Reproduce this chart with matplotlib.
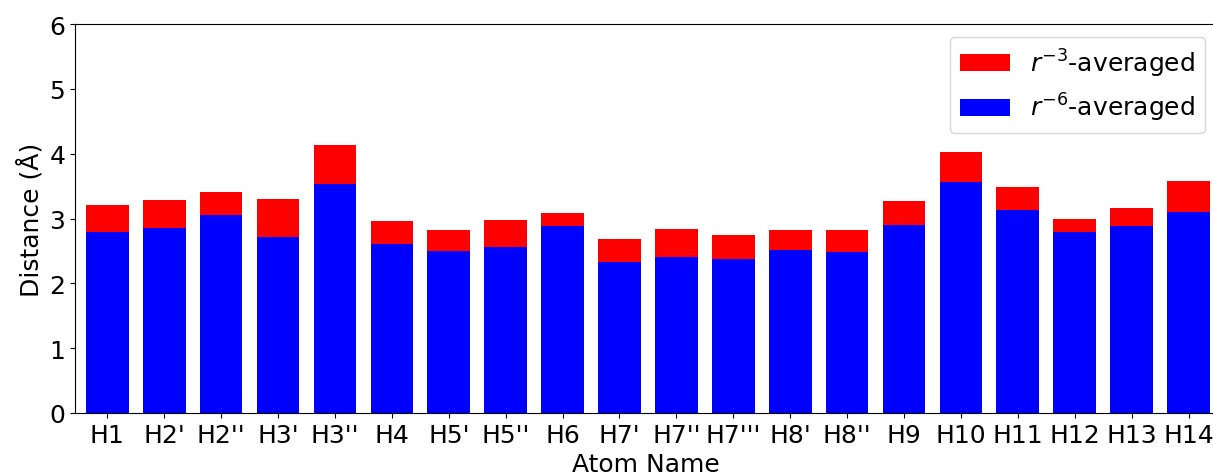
import numpy as np
from matplotlib import pyplot as plt

# Nombres de los átomos y distancias promediadas (Å)
atomos = ["H1", "H2'", "H2''", "H3'", "H3''", "H4", "H5'", "H5''", "H6", "H7'",
          "H7''", "H7'''", "H8'", "H8''", "H9", "H10", "H11", "H12", "H13", "H14"]
r3_prom = [3.21, 3.29, 3.41, 3.30, 4.14, 2.96, 2.83, 2.98, 3.09, 2.69,
           2.84, 2.74, 2.83, 2.83, 3.27, 4.02, 3.48, 2.99, 3.16, 3.58]
r6_prom = [2.79, 2.86, 3.06, 2.72, 3.53, 2.61, 2.50, 2.56, 2.88, 2.33,
           2.41, 2.38, 2.51, 2.49, 2.90, 3.57, 3.13, 2.79, 2.89, 3.10]

plt.rcParams['font.size'] = 18

x = np.arange(len(atomos))

fig = plt.figure(figsize=(12.13, 4.77), dpi=100)
ax = fig.add_axes([75/1213, 63/477, 1142/1213, 389/477])

ax.bar(x, r3_prom, width=0.75, color='red', label=r'$r^{-3}$-averaged')
ax.bar(x, r6_prom, width=0.75, color='blue', label=r'$r^{-6}$-averaged')

ax.set_xlim(-0.568, 19.5)
ax.set_ylim(0, 6)
ax.set_xticks(x)
ax.set_xticklabels(atomos)
ax.set_xlabel('Atom Name', labelpad=4)
ax.set_ylabel('Distance (Å)')
ax.legend(loc='upper right')

plt.savefig('out.png', dpi=100)
